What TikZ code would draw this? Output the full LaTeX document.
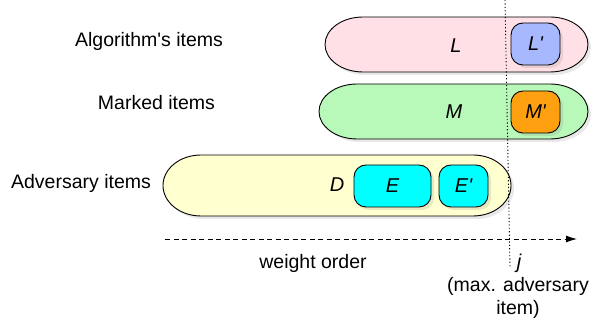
\documentclass[tikz,border=0pt]{standalone}
\usepackage{fontspec}
\setmainfont{Liberation Sans}
\usetikzlibrary{arrows.meta,shadows}
\definecolor{algcolor}{HTML}{FFE0E6}
\definecolor{markcolor}{HTML}{B8F8B8}
\definecolor{advcolor}{HTML}{FFFFD0}
\definecolor{algsub}{HTML}{A8B8FF}
\definecolor{marksub}{HTML}{FFA010}
\definecolor{advsub}{HTML}{00FFFF}
\newcommand{\capend}{38}
\newcommand{\setcapsule}[5]{%
    \filldraw[fill=#5, softshadow] (#1+\capend,#3+#4) -- (#2-\capend,#3+#4)
        arc[start angle=90, end angle=-90, x radius=\capend, y radius=#4]
        -- (#1+\capend,#3-#4)
        arc[start angle=270, end angle=90, x radius=\capend, y radius=#4] -- cycle;}

\begin{document}
\begin{tikzpicture}[x=1pt, y=1pt, line width=0.9pt,
    softshadow/.style={drop shadow={opacity=0.18, shadow xshift=3pt, shadow yshift=-3pt}},
    setname/.style={font=\fontsize{19.5}{23}\selectfont},
    itemtext/.style={font=\fontsize{20}{24}\selectfont\itshape},
    subset/.style={draw, rounded corners=12pt, minimum height=42pt, minimum width=49pt,
        softshadow, font=\fontsize{20}{24}\selectfont\itshape, inner sep=0pt}]

    \useasboundingbox (0,0) rectangle (595,329);

    %Sets
    \setcapsule{325}{588}{284.5}{27.5}{algcolor}
    \setcapsule{319}{588}{217.5}{27.5}{markcolor}
    \setcapsule{163}{511}{143.5}{30.5}{advcolor}

    \node[subset, fill=algsub] (Lp) at (535.5,285) {L\textquotesingle};
    \node[subset, fill=marksub] (Mp) at (535.5,217) {M\textquotesingle};
    \node[subset, fill=advsub, minimum width=77pt] (E) at (392.5,143) {E};
    \node[subset, fill=advsub] (Ep) at (463.5,143) {E\textquotesingle};

    \node[itemtext] (L) at (456,283) {L};
    \node[itemtext] (M) at (454,217) {M};
    \node[itemtext] (D) at (337,144) {D};

    %Labels
    \node[setname] (algname) at (149,288) {Algorithm\textquotesingle s items};
    \node[setname] (markname) at (156.5,226) {Marked items};
    \node[setname] (advname) at (81,146) {Adversary items};

    %Weight order
    \coordinate (wstart) at (165,90);
    \coordinate (wend) at (577,90);
    \draw[line width=0.8pt, dash pattern=on 5pt off 3.5pt, -{Latex[length=11pt, width=7pt]}] (wstart) -- (wend);
    \node[setname] (worder) at (313,66) {weight order};

    %Max. adversary item
    \coordinate (jtop) at (505,329);
    \coordinate (jbot) at (510,62);
    \draw[line width=0.9pt, dash pattern=on 1.2pt off 2.2pt] (jtop) -- (jbot);
    \node[itemtext] (j) at (519,66) {j};
    \node[setname, align=center] (jtext) at (518,31) {(max. adversary\\item)};
\end{tikzpicture}
\end{document}
